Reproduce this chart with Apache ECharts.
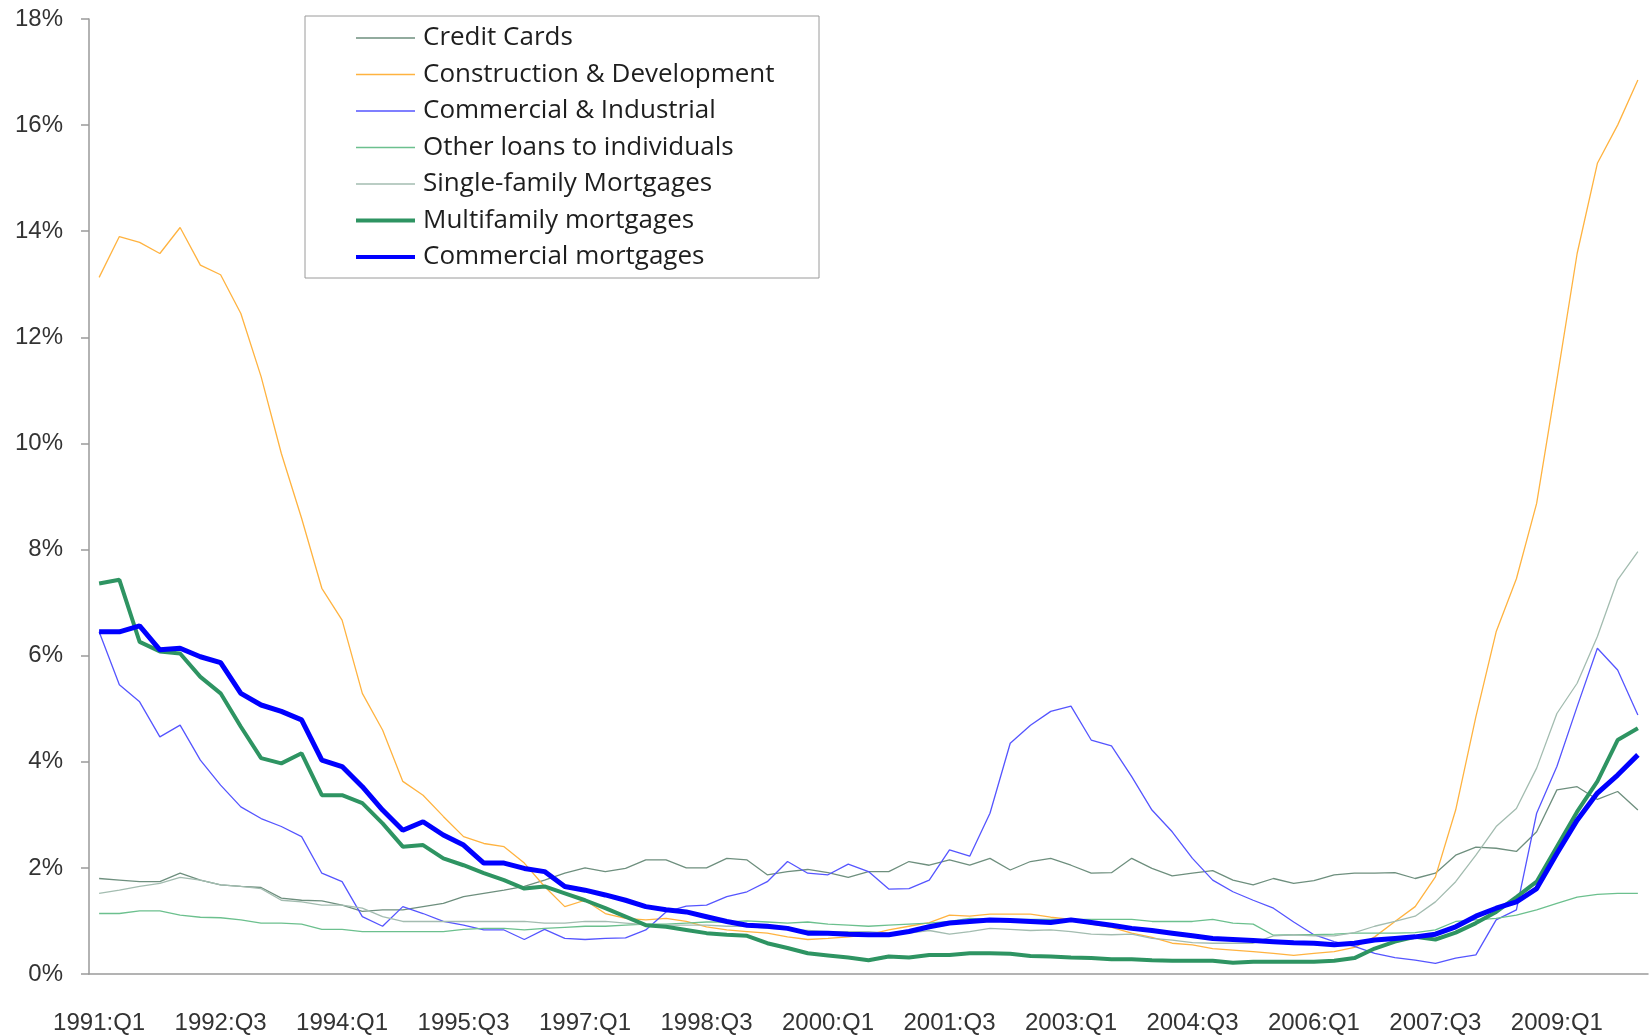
<!DOCTYPE html>
<html>
<head>
<meta charset="utf-8">
<script src="https://cdn.jsdelivr.net/npm/echarts@6/dist/echarts.min.js"></script>
<style>
  html, body { margin: 0; padding: 0; background: #fff; }
  #main { width: 1650px; height: 1036px; }
</style>
</head>
<body>
<div id="main"></div>
<script>
// quarters 1991:Q1 .. 2010:Q1
var quarters = [];
for (var y = 1991; y <= 2010; y++) {
    for (var q = 1; q <= 4; q++) {
        if (y == 2010 && q > 1) break;
        quarters.push(y + ':Q' + q);
    }
}

var creditCards = [1.80,1.77,1.74,1.74,1.90,1.77,1.68,1.65,1.63,1.43,1.39,1.38,1.30,1.18,1.21,1.21,1.27,1.33,1.46,1.52,
    1.58,1.65,1.77,1.90,2.00,1.93,1.99,2.15,2.15,2.00,2.00,2.18,2.15,1.87,1.93,1.97,1.91,1.82,1.93,1.93,
    2.12,2.05,2.15,2.05,2.18,1.96,2.12,2.18,2.05,1.90,1.91,2.18,1.99,1.85,1.90,1.95,1.77,1.68,1.80,1.71,
    1.76,1.87,1.90,1.90,1.91,1.80,1.90,2.24,2.39,2.37,2.31,2.68,3.47,3.53,3.29,3.44,3.09];

var construction = [13.13,13.90,13.79,13.58,14.07,13.36,13.18,12.45,11.26,9.81,8.59,7.27,6.67,5.29,4.60,3.63,3.37,2.97,2.59,2.46,
    2.40,2.09,1.65,1.27,1.39,1.14,1.05,1.02,1.05,0.99,0.89,0.83,0.80,0.77,0.70,0.65,0.67,0.70,0.74,0.83,
    0.90,0.97,1.11,1.09,1.13,1.13,1.13,1.07,1.03,0.94,0.88,0.77,0.69,0.58,0.55,0.48,0.45,0.42,0.39,0.35,
    0.39,0.42,0.50,0.70,0.99,1.27,1.83,3.09,4.85,6.45,7.45,8.87,11.2,13.58,15.28,16.0,16.85];

var commIndustrial = [6.45,5.45,5.13,4.47,4.69,4.03,3.56,3.15,2.93,2.78,2.59,1.90,1.74,1.08,0.90,1.27,1.14,0.99,0.92,0.83,
    0.83,0.65,0.84,0.67,0.65,0.67,0.68,0.83,1.17,1.28,1.30,1.46,1.55,1.74,2.12,1.90,1.87,2.07,1.93,1.60,
    1.61,1.77,2.34,2.22,3.03,4.35,4.69,4.95,5.05,4.41,4.30,3.72,3.09,2.68,2.18,1.77,1.55,1.39,1.24,0.98,
    0.74,0.61,0.52,0.39,0.31,0.26,0.20,0.30,0.36,1.02,1.21,3.03,3.91,5.04,6.14,5.73,4.88];

var otherLoans = [1.14,1.14,1.19,1.19,1.11,1.07,1.06,1.02,0.96,0.96,0.94,0.84,0.84,0.80,0.80,0.80,0.80,0.80,0.84,0.86,
    0.86,0.83,0.86,0.88,0.90,0.90,0.92,0.94,0.94,0.96,0.98,0.98,1.00,0.98,0.96,0.98,0.94,0.92,0.90,0.92,
    0.94,0.96,0.99,1.05,1.03,1.03,1.03,1.03,1.03,1.03,1.03,1.03,0.99,0.99,0.99,1.03,0.96,0.94,0.73,0.74,
    0.74,0.75,0.77,0.77,0.77,0.78,0.83,0.99,1.02,1.05,1.11,1.21,1.33,1.45,1.50,1.52,1.52];

var singleFamily = [1.52,1.58,1.65,1.71,1.82,1.77,1.68,1.65,1.61,1.39,1.36,1.30,1.30,1.24,1.08,0.99,0.99,0.99,0.99,0.99,
    0.99,0.99,0.96,0.96,0.99,0.99,0.96,0.93,0.92,0.92,0.92,0.90,0.90,0.86,0.84,0.82,0.80,0.80,0.80,0.77,
    0.77,0.82,0.75,0.80,0.86,0.84,0.82,0.83,0.80,0.75,0.74,0.75,0.67,0.64,0.59,0.58,0.58,0.58,0.72,0.74,
    0.72,0.72,0.78,0.90,0.99,1.09,1.36,1.74,2.24,2.78,3.12,3.88,4.91,5.48,6.36,7.43,7.96];

var multifamily = [7.36,7.43,6.26,6.08,6.04,5.60,5.29,4.66,4.07,3.97,4.16,3.37,3.37,3.22,2.84,2.40,2.43,2.18,2.05,1.90,
    1.77,1.61,1.65,1.52,1.39,1.24,1.08,0.92,0.89,0.83,0.77,0.74,0.72,0.58,0.49,0.39,0.35,0.31,0.26,0.33,
    0.31,0.36,0.36,0.39,0.39,0.38,0.34,0.33,0.31,0.30,0.28,0.28,0.26,0.25,0.25,0.25,0.21,0.23,0.23,0.23,
    0.23,0.25,0.30,0.48,0.61,0.70,0.65,0.78,0.96,1.17,1.45,1.74,2.40,3.06,3.63,4.41,4.63];

var commMortgages = [6.45,6.45,6.56,6.11,6.14,5.98,5.87,5.29,5.07,4.95,4.79,4.03,3.91,3.53,3.09,2.71,2.87,2.62,2.43,2.09,
    2.09,1.99,1.93,1.65,1.58,1.49,1.39,1.27,1.21,1.17,1.08,0.99,0.92,0.90,0.86,0.77,0.77,0.75,0.74,0.74,
    0.80,0.89,0.96,0.99,1.02,1.01,0.99,0.97,1.02,0.97,0.92,0.86,0.82,0.77,0.72,0.67,0.65,0.63,0.61,0.59,
    0.58,0.55,0.58,0.64,0.67,0.70,0.75,0.89,1.09,1.24,1.36,1.61,2.27,2.90,3.41,3.75,4.13];

var seriesNames = ['Credit Cards', 'Construction & Development', 'Commercial & Industrial',
    'Other loans to individuals', 'Single-family Mortgages', 'Multifamily mortgages', 'Commercial mortgages'];
var seriesData = [creditCards, construction, commIndustrial, otherLoans, singleFamily, multifamily, commMortgages];
var seriesColors = ['#6e8f7e', '#ffb340', '#5555ff', '#6cc08e', '#a3bcb0', '#2e9462', '#0000ff'];
var seriesWidths = [1.3, 1.3, 1.3, 1.3, 1.3, 4, 5];

var myChart = echarts.init(document.getElementById('main'));

var series = [];
var legendData = [];
for (var i = 0; i < seriesNames.length; i++) {
    series.push({
        name: seriesNames[i],
        type: 'line',
        data: seriesData[i],
        symbol: 'none',
        color: seriesColors[i],
        lineStyle: { color: seriesColors[i], width: seriesWidths[i] }
    });
    legendData.push({
        name: seriesNames[i],
        lineStyle: { color: seriesColors[i], width: seriesWidths[i] > 2 ? 4 : 1.3 }
    });
}

var option = {
    animation: false,
    backgroundColor: '#fff',
    grid: { left: 89, right: 2, top: 19, bottom: 62 },
    graphic: [{
        type: 'rect',
        shape: { x: 305, y: 16, width: 514, height: 262 },
        style: { fill: 'none', stroke: '#9a9a9a', lineWidth: 1 },
        z: 1
    }],
    legend: {
        orient: 'vertical',
        left: 354,
        top: 25,
        padding: 0,
        itemWidth: 59,
        itemHeight: 25,
        itemGap: 10.5,
        data: legendData,
        itemStyle: { opacity: 0 },
        textStyle: {
            fontFamily: 'Open Sans',
            fontSize: 26,
            lineHeight: 25,
            color: '#1e1e1e',
            padding: [0, 0, 0, 3]
        }
    },
    xAxis: {
        type: 'category',
        data: quarters,
        boundaryGap: true,
        axisLine: { lineStyle: { color: '#9a9a9a', width: 1.5 } },
        axisTick: { interval: 0, length: 8, lineStyle: { color: '#9a9a9a', width: 1.5 } },
        axisLabel: {
            interval: 5,
            margin: 37,
            fontFamily: 'Liberation Sans',
            fontSize: 24,
            color: '#333'
        },
        splitLine: { show: false }
    },
    yAxis: {
        type: 'value',
        min: 0,
        max: 18,
        interval: 2,
        axisLine: { show: true, lineStyle: { color: '#9a9a9a', width: 1.5 } },
        axisTick: { show: true, length: 8, lineStyle: { color: '#9a9a9a', width: 1.5 } },
        axisLabel: {
            formatter: '{value}%',
            margin: 26,
            fontFamily: 'Liberation Sans',
            fontSize: 24,
            color: '#333'
        },
        splitLine: { show: false }
    },
    series: series
};

myChart.setOption(option);
</script>
</body>
</html>
